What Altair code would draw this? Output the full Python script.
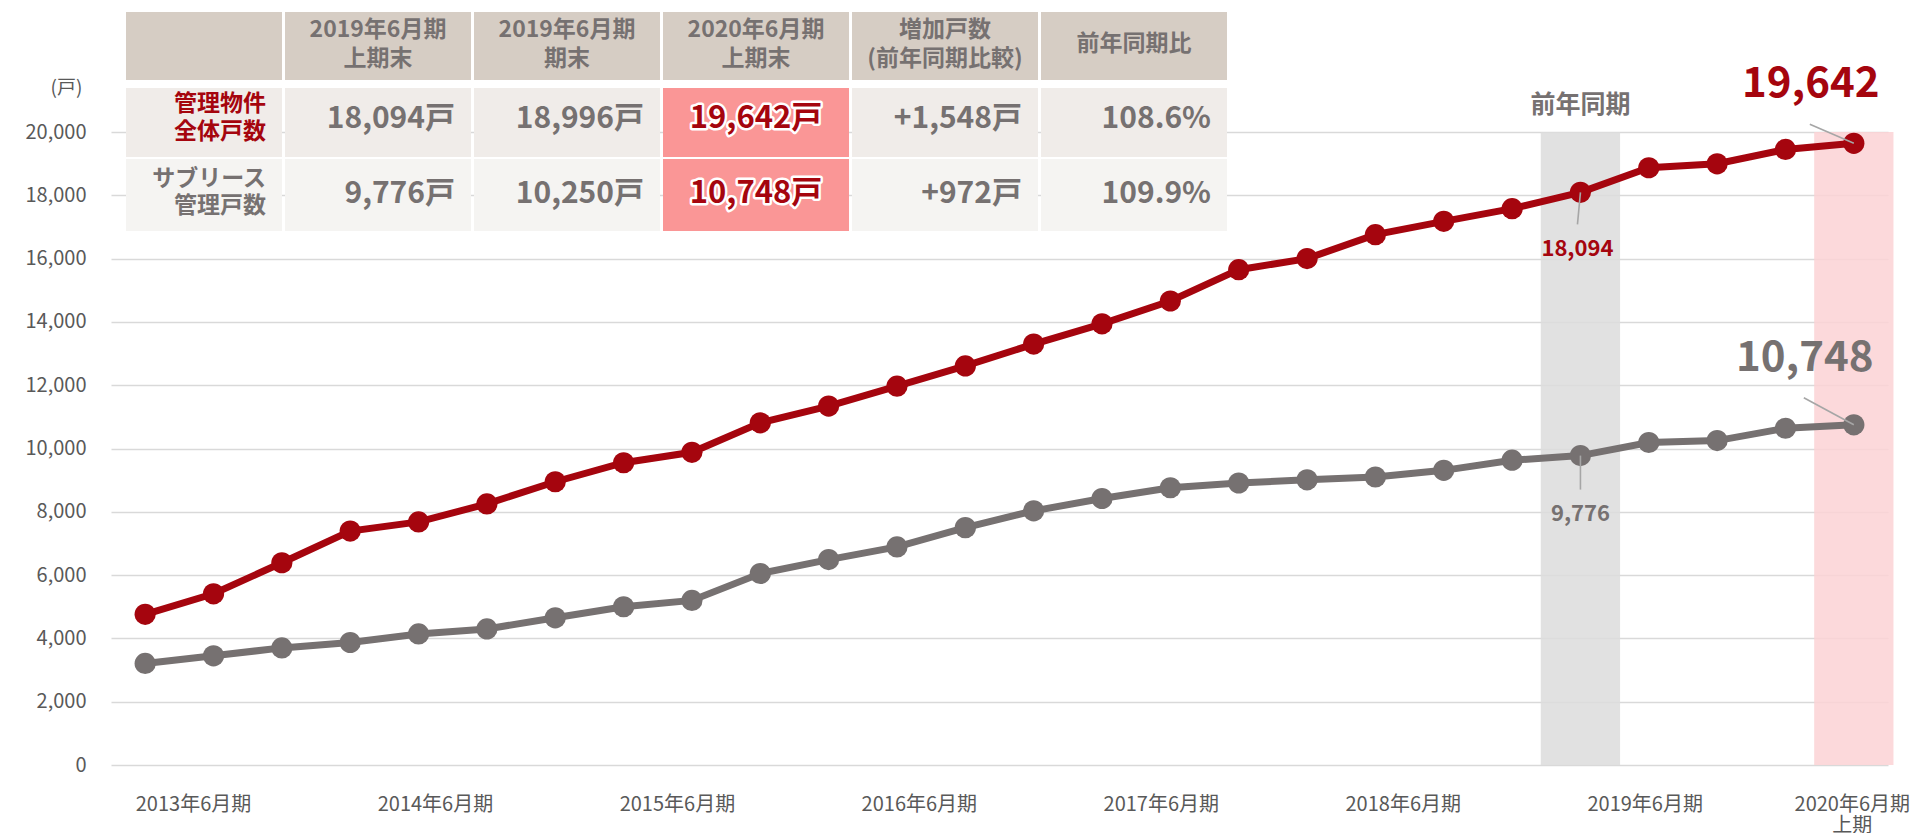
import altair as alt
import pandas as pd

# ---------------- data ----------------
quarter_index = list(range(26))
total_units = [4760, 5410, 6390, 7390, 7680, 8250, 8950, 9550, 9880, 10810,
               11340, 11970, 12610, 13300, 13940, 14660, 15650, 16000, 16757, 17177,
               17578, 18094, 18870, 18996, 19450, 19642]
sublease_units = [3210, 3450, 3700, 3870, 4140, 4300, 4650, 5000, 5200, 6050,
                  6490, 6890, 7500, 8030, 8420, 8760, 8910, 9010, 9100, 9310,
                  9630, 9776, 10190, 10250, 10640, 10748]
series_names = ["管理物件全体戸数", "サブリース管理戸数"]

x_tick_positions = [0.70, 4.24, 7.78, 11.32, 14.86, 18.40, 21.94, 24.97]
x_tick_labels = ["2013年6月期", "2014年6月期", "2015年6月期", "2016年6月期",
                 "2017年6月期", "2018年6月期", "2019年6月期", "2020年6月期\n上期"]
y_ticks = list(range(0, 20001, 2000))

prev_year_index = 21
current_index = 25
band_label = "前年同期"

table_header_1 = ["", "2019年6月期", "2019年6月期", "2020年6月期", "増加戸数", ""]
table_header_2 = ["", "上期末", "期末", "上期末", "(前年同期比較)", ""]
table_header_single = ["", "", "", "", "", "前年同期比"]
row_label_lines = [["管理物件", "全体戸数"], ["サブリース", "管理戸数"]]
prev_half_end = [18094, 9776]
prev_year_end = [18996, 10250]
current_half_end = [19642, 10748]

# ---------------- styles / layout ----------------
RED = "#A5050E"
GRAY = "#767171"
AXIS_TXT = "#595959"
GRID = "#D9D9D9"
HEADER_BG = "#D6CDC4"
ROW_BG = ["#F0ECE9", "#F5F4F2"]
HILITE_BG = "#FA9696"
FONT = "Noto Sans CJK JP"
W, H = 1777, 633

x_scale = alt.Scale(domain=[-0.5, 25.5], nice=False, zero=False)
y_scale = alt.Scale(domain=[0, 20000], nice=False)


def lab_js(s):
    parts = s.split("\n")
    if len(parts) == 1:
        return "'" + s + "'"
    return "[" + ",".join("'" + p + "'" for p in parts) + "]"


label_expr = "''"
for pos, lab in reversed(list(zip(x_tick_positions, x_tick_labels))):
    label_expr = f"abs(datum.value - {pos}) < 0.05 ? {lab_js(lab)} : {label_expr}"

x_axis = alt.Axis(values=x_tick_positions, labelExpr=label_expr, grid=False, domain=False,
                  ticks=False, labelFontSize=20, labelColor=AXIS_TXT, labelPadding=29,
                  labelFlush=False, labelOverlap=False, labelLineHeight=21, title=None,
                  labelFont=FONT)
y_axis = alt.Axis(values=y_ticks, format=",d", grid=True, gridColor=GRID, gridWidth=1.5,
                  domain=False, ticks=False, labelFontSize=20, labelColor=AXIS_TXT,
                  labelPadding=25, labelFont=FONT, title="(戸)", titleAngle=0, titleX=-45,
                  titleY=-39, titleAlign="center", titleBaseline="alphabetic",
                  titleFontSize=19, titleFontWeight="normal", titleColor=AXIS_TXT,
                  titleFont=FONT)


def X(field):
    return alt.X(field, type="quantitative", scale=x_scale, axis=x_axis)


def Y(field):
    return alt.Y(field, type="quantitative", scale=y_scale, axis=y_axis)


layers = []

# highlight bands
for b_idx, b_color in [(prev_year_index, "#DCDCDC"), (current_index, "#FCD2D5")]:
    bdf = pd.DataFrame({"x0": [b_idx - 0.58], "x1": [b_idx + 0.58], "y0": [0], "y1": [y_ticks[-1]]})
    layers.append(alt.Chart(bdf).mark_rect(color=b_color, opacity=0.85).encode(
        x=X("x0"), x2="x1", y=Y("y0"), y2="y1"))

# lines + points
for vals, col in [(sublease_units, GRAY), (total_units, RED)]:
    sdf = pd.DataFrame({"idx": quarter_index, "value": vals})
    base = alt.Chart(sdf).encode(x=X("idx"), y=Y("value"))
    layers.append(base.mark_line(color=col, strokeWidth=7))
    layers.append(base.mark_circle(color=col, size=450, opacity=1))

# leader lines
LEADER = "#A6A6A6"
leaders = [
    (current_index, total_units[current_index], -44, -19),
    (current_index, sublease_units[current_index], -50, -27),
    (prev_year_index, total_units[prev_year_index], -3, 32),
    (prev_year_index, sublease_units[prev_year_index], 0, 34),
]
for li, lv, ox, oy in leaders:
    ldf = pd.DataFrame({"idx": [li], "value": [lv]})
    layers.append(alt.Chart(ldf).mark_rule(color=LEADER, strokeWidth=1.6, x2Offset=ox, y2Offset=oy).encode(
        x=X("idx"), y=Y("value"), x2="idx:Q", y2="value:Q"))

# annotations
annos = [
    (current_index, total_units[current_index], RED, 42, -43, -46),
    (current_index, sublease_units[current_index], GRAY, 42, -49, -54),
    (prev_year_index, total_units[prev_year_index], RED, 22, -3, 64),
    (prev_year_index, sublease_units[prev_year_index], GRAY, 22, 0, 65),
]
for ai, av, col, fs, dx, dy in annos:
    adf = pd.DataFrame({"idx": [ai], "value": [av], "label": [f"{av:,}"]})
    layers.append(alt.Chart(adf).mark_text(color=col, fontSize=fs, fontWeight="bold", dx=dx, dy=dy,
                                           align="center", baseline="alphabetic", font=FONT).encode(
        x=X("idx"), y=Y("value"), text="label:N"))

bl_df = pd.DataFrame({"idx": [prev_year_index], "value": [y_ticks[-1]], "label": [band_label]})
layers.append(alt.Chart(bl_df).mark_text(color=GRAY, fontSize=25, fontWeight="bold", dy=-19,
                                         align="center", baseline="alphabetic", font=FONT).encode(
    x=X("idx"), y=Y("value"), text="label:N"))

# ---------------- table (pixel layout) ----------------
col_edges = [(15, 171), (174, 360), (363, 549), (552, 738), (741, 927), (930, 1116)]
row_edges = [(-120, -52), (-44, 25), (27, 99)]
HL_COL = 3

cells = []
for r, (y0, y1) in enumerate(row_edges):
    for c, (x0, x1) in enumerate(col_edges):
        if r == 0:
            fill = HEADER_BG
        elif c == HL_COL:
            fill = HILITE_BG
        else:
            fill = ROW_BG[r - 1]
        cells.append({"x0": x0, "x1": x1, "y0": y0, "y1": y1, "fill": fill})
cell_df = pd.DataFrame(cells)
layers.append(alt.Chart(cell_df).mark_rect().encode(
    x=alt.X("x0:Q", scale=None), x2="x1:Q", y=alt.Y("y0:Q", scale=None), y2="y1:Q",
    color=alt.Color("fill:N", scale=None)))

# header texts
hdr = []
for c, (x0, x1) in enumerate(col_edges):
    cx = (x0 + x1) / 2
    if table_header_1[c]:
        hdr.append({"px": cx, "py": -95, "t": table_header_1[c]})
    if table_header_2[c]:
        hdr.append({"px": cx, "py": -66, "t": table_header_2[c]})
    if table_header_single[c]:
        hdr.append({"px": cx, "py": -81, "t": table_header_single[c]})
hdr_df = pd.DataFrame(hdr)
layers.append(alt.Chart(hdr_df).mark_text(color=GRAY, fontSize=23, fontWeight="bold", align="center",
                                          baseline="alphabetic", font=FONT).encode(
    x=alt.X("px:Q", scale=None), y=alt.Y("py:Q", scale=None), text="t:N"))

# row labels
row_label_y = [[-21, 7], [54, 81]]
row_label_col = [RED, GRAY]
rl = []
for r in range(2):
    for k, line in enumerate(row_label_lines[r]):
        rl.append({"px": col_edges[0][1] - 16, "py": row_label_y[r][k], "t": line, "col": row_label_col[r]})
rl_df = pd.DataFrame(rl)
layers.append(alt.Chart(rl_df).mark_text(fontSize=23, fontWeight="bold", align="right",
                                         baseline="alphabetic", font=FONT).encode(
    x=alt.X("px:Q", scale=None), y=alt.Y("py:Q", scale=None), text="t:N",
    color=alt.Color("col:N", scale=None)))

# values
value_y = [-4, 71]
vals = []
hl = []
for r in range(2):
    inc = current_half_end[r] - prev_half_end[r]
    ratio = current_half_end[r] / prev_half_end[r] * 100
    row_texts = [f"{prev_half_end[r]:,}戸", f"{prev_year_end[r]:,}戸", f"{current_half_end[r]:,}戸",
                 f"+{inc:,}戸", f"{ratio:.1f}%"]
    for k, t in enumerate(row_texts):
        c = k + 1
        if c == HL_COL:
            hl.append({"px": (col_edges[c][0] + col_edges[c][1]) / 2, "py": value_y[r], "t": t})
        else:
            vals.append({"px": col_edges[c][1] - 16, "py": value_y[r], "t": t})
val_df = pd.DataFrame(vals)
hl_df = pd.DataFrame(hl)
layers.append(alt.Chart(val_df).mark_text(color=GRAY, fontSize=30, fontWeight="bold", align="right",
                                          baseline="alphabetic", font=FONT).encode(
    x=alt.X("px:Q", scale=None), y=alt.Y("py:Q", scale=None), text="t:N"))
layers.append(alt.Chart(hl_df).mark_text(color="white", stroke="white", strokeWidth=5, strokeJoin="round",
                                         fontSize=31, fontWeight="bold", align="center",
                                         baseline="alphabetic", font=FONT).encode(
    x=alt.X("px:Q", scale=None), y=alt.Y("py:Q", scale=None), text="t:N"))
layers.append(alt.Chart(hl_df).mark_text(color=RED, fontSize=31, fontWeight="bold", align="center",
                                         baseline="alphabetic", font=FONT).encode(
    x=alt.X("px:Q", scale=None), y=alt.Y("py:Q", scale=None), text="t:N"))

chart = alt.layer(*layers).properties(
    width=W, height=H,
    autosize=alt.AutoSizeParams(type="none"),
    padding={"left": 103, "top": 124, "right": 22, "bottom": 68},
).configure(font=FONT).configure_view(stroke=None)

chart.save("out.html", embed_options={"renderer": "svg", "actions": False})
